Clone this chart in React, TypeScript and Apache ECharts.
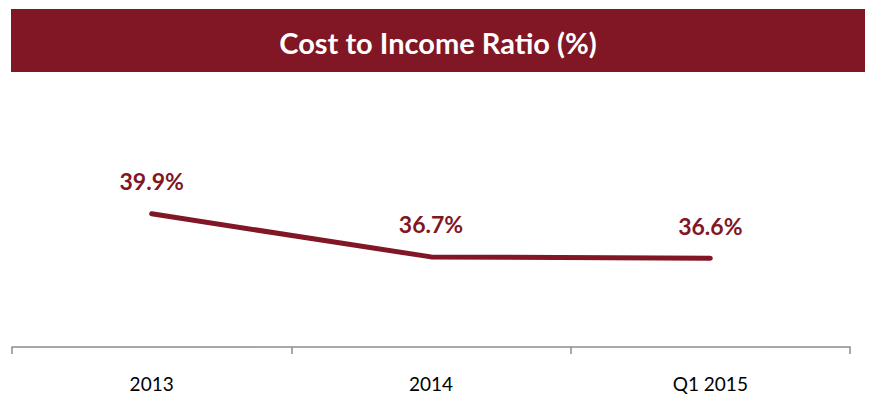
import React, { useEffect, useRef } from "react";
import * as echarts from "echarts";

const categories = ["2013", "2014", "Q1 2015"];
const ratioValues = [39.9, 36.7, 36.6];
const titleText = "Cost to Income Ratio (%)";

const RED = "#811624";
const FONT = "Lato";

export default function App() {
  const ref = useRef<HTMLDivElement>(null);
  useEffect(() => {
    if (!ref.current) return;
    const chart = echarts.init(ref.current, undefined, { renderer: "svg" });
    chart.setOption({
      animation: false,
      backgroundColor: "#ffffff",
      textStyle: { fontFamily: FONT },
      graphic: [
        {
          type: "rect",
          shape: { x: 11, y: 9, width: 854, height: 63 },
          style: { fill: RED },
          z: 0,
        },
        {
          type: "text",
          x: 438,
          y: 42,
          style: {
            text: titleText,
            fill: "#ffffff",
            font: "bold 29px Lato",
            textAlign: "center",
            textVerticalAlign: "middle",
          },
          z: 1,
        },
      ],
      grid: { left: 12, right: 19, top: 78, bottom: 48 },
      xAxis: {
        type: "category",
        data: categories,
        boundaryGap: true,
        axisLine: { show: true, lineStyle: { color: "#8c8c8c", width: 1.5 } },
        axisTick: { show: true, length: 7, lineStyle: { color: "#8c8c8c", width: 1.5 } },
        axisLabel: { color: "#000000", fontSize: 19, margin: 27, fontFamily: FONT },
        splitLine: { show: false },
      },
      yAxis: {
        type: "value",
        min: 30,
        max: 50,
        show: false,
        splitLine: { show: false },
      },
      series: [
        {
          type: "line",
          data: ratioValues,
          showSymbol: true,
          symbol: "circle",
          symbolSize: 2,
          itemStyle: { color: RED },
          lineStyle: { color: RED, width: 5, cap: "round" },
          label: {
            show: true,
            position: "top",
            distance: 20,
            formatter: (p: any) => p.value.toFixed(1) + "%",
            color: RED,
            fontSize: 23,
            fontWeight: "bold",
            fontFamily: FONT,
          },
        },
      ],
    });
    return () => chart.dispose();
  }, []);
  return (
    <div
      ref={ref}
      style={{ position: "absolute", left: 0, top: 0, width: 869, height: 395 }}
    />
  );
}
